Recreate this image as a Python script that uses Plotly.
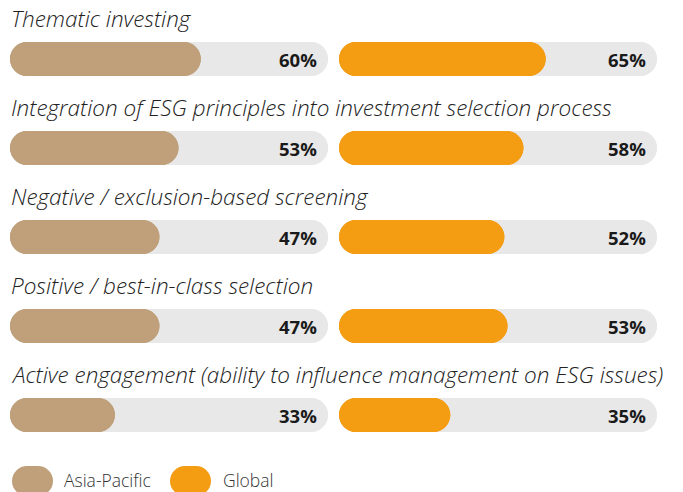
import plotly.graph_objects as go

categories = [
    "Thematic investing",
    "Integration of ESG principles into investment selection process",
    "Negative / exclusion-based screening",
    "Positive / best-in-class selection",
    "Active engagement (ability to influence management on ESG issues)",
]
asia_pacific = [60, 53, 47, 47, 33]
global_vals = [65, 58, 52, 53, 35]
series_names = ["Asia-Pacific", "Global"]
tick_suffix = "%"

# the page body has an 8px margin; draw in a 675x484 figure so it fills the window
OFF = 8
W, H = 683 - OFF, 492 - OFF
TAN = "#bfa07a"
ORANGE = "#f49c12"
TRACK = "#e8e8e8"
FONT = "Open Sans"
BAR_W = 34 / 89
RADIUS = 17


def px(p):
    return (p - OFF) / W


def py(p):
    return 1 - (p - OFF) / H


rows = list(range(len(categories)))
fig = go.Figure()


def pill(values, color, xaxis, name):
    # two fully overlapping bars, rounded at opposite ends -> full pill
    fig.add_trace(go.Bar(
        y=rows, x=[-v for v in values], base=values,
        orientation="h", width=BAR_W, marker=dict(color=color, cornerradius=RADIUS, line=dict(width=0)),
        xaxis=xaxis, yaxis="y", showlegend=False, hoverinfo="skip", name=name))
    fig.add_trace(go.Bar(
        y=rows, x=values, base=[0] * len(values),
        orientation="h", width=BAR_W, marker=dict(color=color, cornerradius=RADIUS, line=dict(width=0)),
        xaxis=xaxis, yaxis="y", showlegend=False, name=name,
        customdata=values, hovertemplate=name + ": %{customdata}%<extra></extra>"))


full = [100] * len(categories)
pill(full, TRACK, "x", "track")
pill(full, TRACK, "x2", "track")
pill(asia_pacific, TAN, "x", series_names[0])
pill(global_vals, ORANGE, "x2", series_names[1])

annotations = []
for i, cat in enumerate(categories):
    annotations.append(dict(
        text=cat, xref="paper", yref="y", x=px(10), y=i - 41 / 89,
        xanchor="left", yanchor="middle", showarrow=False, borderpad=0,
        font=dict(family=FONT, size=22.5, color="#222222", style="italic", weight=300)))
    for xr, vals in (("x", asia_pacific), ("x2", global_vals)):
        annotations.append(dict(
            text=f"{vals[i]}{tick_suffix}", xref=xr, yref="y", x=100, y=i,
            xshift=-9, xanchor="right", yanchor="middle", showarrow=False,
            font=dict(family=FONT, size=18.5, color="#1a1a1a", weight="bold")))

# legend
shapes = []
legend_items = [(series_names[0], TAN, 12, 62), (series_names[1], ORANGE, 170, 221)]
top, bot = 466, 496
for name, color, x0, tx in legend_items:
    x1 = x0 + 41
    d = bot - top
    shapes.append(dict(type="circle", xref="paper", yref="paper", x0=px(x0), x1=px(x0 + d),
                       y0=py(bot), y1=py(top), fillcolor=color, line=dict(width=0), layer="above"))
    shapes.append(dict(type="circle", xref="paper", yref="paper", x0=px(x1 - d), x1=px(x1),
                       y0=py(bot), y1=py(top), fillcolor=color, line=dict(width=0), layer="above"))
    shapes.append(dict(type="rect", xref="paper", yref="paper", x0=px(x0 + d / 2), x1=px(x1 - d / 2),
                       y0=py(bot), y1=py(top), fillcolor=color, line=dict(width=0), layer="above"))
    annotations.append(dict(text=name, xref="paper", yref="paper", x=px(tx), y=py(480),
                            xanchor="left", yanchor="middle", showarrow=False,
                            font=dict(family=FONT, size=17.5, color="#333333", weight=300)))

unit = 89
y_top = -(59 - OFF) / unit
y_bot = y_top + H / unit

fig.update_layout(
    width=W, height=H, margin=dict(l=0, r=0, t=0, b=0),
    paper_bgcolor="white", plot_bgcolor="white",
    barmode="overlay", showlegend=False,
    xaxis=dict(domain=[px(10), px(328)], range=[0, 100], visible=False, fixedrange=True),
    xaxis2=dict(domain=[px(339), px(657)], range=[0, 100], visible=False, fixedrange=True, anchor="y"),
    yaxis=dict(range=[y_bot, y_top], visible=False, fixedrange=True),
    annotations=annotations, shapes=shapes,
)

fig.write_html("out.html")
